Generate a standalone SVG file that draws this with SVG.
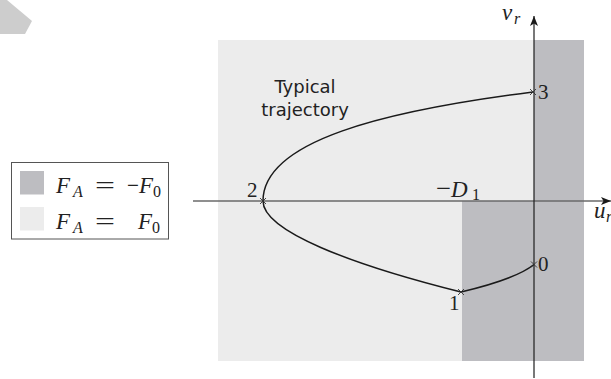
<svg xmlns="http://www.w3.org/2000/svg" width="611" height="379" viewBox="0 0 611 379">
  <defs>
    <marker id="arr" markerUnits="userSpaceOnUse" markerWidth="12" markerHeight="10" refX="10" refY="5" orient="auto" viewBox="0 0 12 10">
      <path d="M0,1 L10,5 L0,9 L2.5,5 z" fill="#1a1a1a"/>
    </marker>
  </defs>
  <style>
    .light { fill: #ececec; }
    .dark { fill: #bdbdc1; }
    .traj { fill: none; stroke: #1a1a1a; stroke-width: 1.5; }
    .cross { stroke: #333; stroke-width: 0.9; fill: none; }
    .num { font-family: "Liberation Serif", serif; font-size: 21px; fill: #222; }
    .mi { font-family: "Liberation Serif", serif; font-style: italic; font-size: 23px; fill: #222; }
    .sub { font-family: "Liberation Serif", serif; font-size: 16px; fill: #222; }
    .subi { font-family: "Liberation Serif", serif; font-style: italic; font-size: 16px; fill: #222; }
    .op { font-family: "Liberation Serif", serif; font-size: 23px; fill: #222; }
    .sans { font-family: "DejaVu Sans", sans-serif; font-size: 18px; fill: #222; text-anchor: middle; }
  </style>

  <!-- watermark fragment -->
  <polygon points="0,0 7,0 32,21 25,34 0,34" fill="#cdcdcd"/>

  <!-- regions -->
  <g id="regions">
    <rect class="light" x="218" y="40" width="366" height="321"/>
    <rect class="dark" x="534" y="40" width="50" height="161"/>
    <rect class="dark" x="462" y="201" width="122" height="160"/>
  </g>

  <!-- axes -->
  <g id="axes">
    <line x1="193" y1="201" x2="611" y2="201" stroke="#6a6a6a" stroke-width="1.6" marker-end="url(#arr)"/>
    <line x1="534" y1="378" x2="534" y2="16" stroke="#1e1e1e" stroke-width="1.2" marker-end="url(#arr)"/>
    <text class="mi" x="502" y="20">v</text>
    <text class="subi" x="514" y="24">r</text>
    <text class="mi" x="594" y="218">u</text>
    <text class="subi" x="606" y="222">r</text>
    <text class="op" x="436" y="196" textLength="15" lengthAdjust="spacingAndGlyphs">−</text>
    <text class="mi" x="451" y="197">D</text>
    <text class="sub" x="472" y="200">1</text>
  </g>

  <!-- trajectory -->
  <g id="connectors">
    <path class="traj" d="M534,264.5 Q516,279 461,292"/>
    <path class="traj" d="M461,292 C351,264.5 263,231 263,201"/>
    <path class="traj" d="M263,201 C263,141 383,111 533,92"/>
  </g>

  <g id="label-typical">
    <text class="sans" x="305" y="93">Typical</text>
    <text class="sans" x="305" y="116">trajectory</text>
  </g>

  <!-- points -->
  <g id="p0">
    <path class="cross" d="M531,261.5 L537,267.5 M531,267.5 L537,261.5"/>
    <text class="num" x="538" y="271">0</text>
  </g>
  <g id="p1">
    <path class="cross" d="M458,289 L464,295 M458,295 L464,289"/>
    <text class="num" x="449" y="310">1</text>
  </g>
  <g id="p2">
    <path class="cross" d="M260,198 L266,204 M260,204 L266,198"/>
    <text class="num" x="247" y="197">2</text>
  </g>
  <g id="p3">
    <path class="cross" d="M530,89 L536,95 M530,95 L536,89"/>
    <text class="num" x="538" y="99">3</text>
  </g>

  <!-- legend -->
  <g id="legend">
    <rect x="11.5" y="162.5" width="157" height="76.5" fill="#fff" stroke="#555" stroke-width="1"/>
    <rect class="dark" x="20" y="171" width="24" height="23.5"/>
    <rect class="light" x="20" y="207" width="24" height="23.5"/>
    <text class="mi" x="56" y="193">F</text>
    <text class="subi" x="73" y="197">A</text>
    <text class="op" x="95" y="193" textLength="20" lengthAdjust="spacingAndGlyphs">=</text>
    <text class="op" x="127" y="193" textLength="12" lengthAdjust="spacingAndGlyphs">−</text>
    <text class="mi" x="139" y="193">F</text>
    <text class="sub" x="153" y="197">0</text>
    <text class="mi" x="56" y="228.5">F</text>
    <text class="subi" x="73" y="232.5">A</text>
    <text class="op" x="95" y="228.5" textLength="20" lengthAdjust="spacingAndGlyphs">=</text>
    <text class="mi" x="138" y="228.5">F</text>
    <text class="sub" x="152" y="232.5">0</text>
  </g>
</svg>
